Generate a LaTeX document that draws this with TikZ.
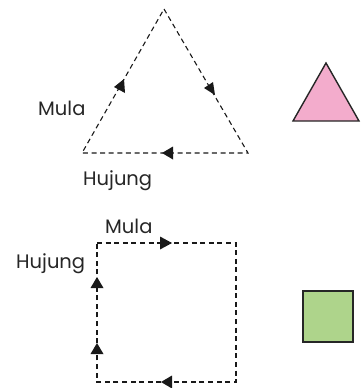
\documentclass[tikz,border=0pt]{standalone}
\usepackage{fontspec}
\setmainfont{Poppins}
\begin{document}
\begin{tikzpicture}[x=1pt,y=-1pt,
  path/.style={draw=black!90, line width=1.1pt, dash pattern=on 5pt off 3.6pt},
  head/.style={fill=black!90, draw=none},
  lbl/.style={anchor=base west, inner sep=0pt, font=\fontsize{19.5}{22}\selectfont, text=black!85},
  shapeout/.style={draw=black!85, line width=1.4pt, line join=miter}]
\useasboundingbox (0,0) rectangle (360,388);
% triangle path
\coordinate (A) at (164,9);
\coordinate (B) at (248,153);
\coordinate (C) at (82,153);
\draw[path] (A) -- (B) -- (C) -- cycle;
\fill[head] (114,87) -- (124,79) -- (125,93) -- cycle;
\fill[head] (204,88) -- (213,82) -- (215,95) -- cycle;
\fill[head] (162,153) -- (173,146.5) -- (173,159.5) -- cycle;
\node[lbl] (m1) at (38,115) {Mula};
\node[lbl] (h1) at (83,185) {Hujung};
% pink triangle
\filldraw[shapeout, fill={rgb,255:red,243;green,172;blue,204}] (326,63) -- (359,121) -- (293,121) -- cycle;
% square path
\coordinate (P) at (97,243);
\coordinate (Q) at (236,243);
\coordinate (R) at (236,382);
\coordinate (S) at (97,382);
\draw[path] (P) -- (Q) -- (R) -- (S) -- cycle;
\fill[head] (172,243) -- (160,236.5) -- (160,249.5) -- cycle;
\fill[head] (97,277) -- (90.5,288) -- (103.5,288) -- cycle;
\fill[head] (97,343) -- (90.5,354) -- (103.5,354) -- cycle;
\fill[head] (161,382) -- (172,375.5) -- (172,388.5) -- cycle;
\node[lbl] (m2) at (105,233) {Mula};
\node[lbl] (h2) at (16,268) {Hujung};
% green square
\filldraw[shapeout, fill={rgb,255:red,174;green,212;blue,139}] (303,291) rectangle (353,342);
\end{tikzpicture}
\end{document}
